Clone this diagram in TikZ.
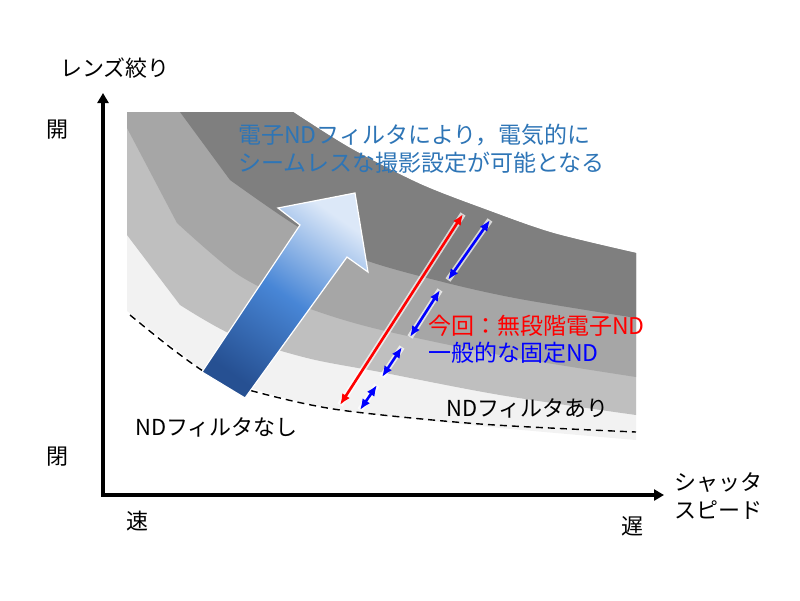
\documentclass[tikz,border=0pt]{standalone}
\usepackage{fontspec}
\usepackage{xcolor}
\usetikzlibrary{arrows.meta}
\newfontfamily\jpfont{Noto Sans CJK JP}
\definecolor{band0}{RGB}{127,127,127}
\definecolor{band1}{RGB}{166,166,166}
\definecolor{band2}{RGB}{191,191,191}
\definecolor{band3}{RGB}{242,242,242}
\definecolor{notecol}{RGB}{46,117,182}
\definecolor{arrowdark}{RGB}{38,80,146}
\definecolor{arrowmid}{RGB}{72,134,214}
\definecolor{arrowlight}{RGB}{220,232,248}

\begin{document}
\begin{tikzpicture}[x=1pt,y=-1pt,
  every node/.style={font=\jpfont\fontsize{22}{28}\selectfont, inner sep=0pt},
  big/.style={font=\jpfont\fontsize{23}{28}\selectfont},
  axis/.style={line width=3.6pt, {Triangle[length=10pt,width=11pt]}-{Triangle[length=10pt,width=11pt]}},
  dbl/.style={line width=2.6pt, {Latex[length=11pt,width=9pt]}-{Latex[length=11pt,width=9pt]},
    preaction={draw=white, line width=6pt, opacity=0.7, -}},
  ndline/.style={dashed, dash pattern=on 7pt off 5pt, line width=1.4pt},
  bigarrow/.style={left color=arrowlight, right color=arrowdark, middle color=arrowmid,
    shading angle=-35, draw=white, line width=1.2pt}]

\useasboundingbox (0,0) rectangle (800,600);

% ---- axes ----
\coordinate (origin) at (103,495);
\coordinate (ytop) at (103,93);
\coordinate (xend) at (664,495);

% double arrow macro (colour, from, to)
\newcommand{\ndarrow}[3]{\draw[dbl,#1] (#2) -- (#3);}

% ---- grey bands (clipped to outer outline) ----
\begin{scope}
  \clip (127,112) -- plot[smooth] coordinates {(293,112) (350,148) (420,184) (487,210) (553,233) (636,253)}
    -- (636,440) -- plot[smooth] coordinates {(636,440) (480,426) (340,410) (260,391) (200,368)}
    -- (127,311) -- cycle;
  \fill[band3] (100,100) rectangle (650,450);
  \fill[band2] (100,100) -- (650,100) -- (650,415)
    -- plot[smooth] coordinates {(636,415) (500,395) (380,372) (307,358) (233,335) (180,305)}
    -- (127,235) -- (100,235) -- cycle;
  \fill[band1] (100,100) -- (650,100) -- (650,377)
    -- plot[smooth] coordinates {(636,377) (500,355) (373,328) (300,305) (237,274) (177,223)}
    -- (127,128) -- (100,128) -- cycle;
  \fill[band0] (650,100) -- (650,318)
    -- plot[smooth] coordinates {(636,318) (520,299) (447,283) (365,260) (300,228) (230,180)}
    -- (180,112) -- (171,100) -- cycle;
\end{scope}

% no-ND boundary
\draw[ndline] plot[smooth] coordinates {(130,315) (175,351) (215,378) (260,393) (340,410) (480,424) (636,432)};

\draw[axis] (ytop) -- (origin) -- (xend);

% ---- big gradient arrow ----
\shadedraw[bigarrow] (202,372) -- (300,225) -- (278,208) -- (355,193)
  -- (368,272) -- (347,257) -- (245,398) -- cycle;

% ---- ND ranges ----
\coordinate (r0) at (340,405);  \coordinate (r1) at (463,214);
\coordinate (b0) at (360,410);  \coordinate (b1) at (377,385);
\coordinate (b2) at (382,377);  \coordinate (b3) at (402,347);
\coordinate (b4) at (410,337);  \coordinate (b5) at (440,290);
\coordinate (b6) at (448,280);  \coordinate (b7) at (490,220);
\ndarrow{red}{r0}{r1}
\ndarrow{blue}{b0}{b1}
\ndarrow{blue}{b2}{b3}
\ndarrow{blue}{b4}{b5}
\ndarrow{blue}{b6}{b7}

% ---- labels ----
\node[big, anchor=west, text=notecol, align=left] (note) at (238,149)
  {電子NDフィルタにより，電気的に\\シームレスな撮影設定が可能となる};
\node[big, anchor=west, text=red] (nowlbl) at (428,326) {今回：無段階電子ND};
\node[big, anchor=west, text=blue] (fixlbl) at (428,353) {一般的な固定ND};
\node[anchor=west] (withnd) at (446,408) {NDフィルタあり};
\node[anchor=west] (nond) at (135,427) {NDフィルタなし};

\node (irislbl) at (115,68) {レンズ絞り};
\node (openlbl) at (57,130) {開};
\node (closelbl) at (57,457) {閉};
\node (fastlbl) at (137,521) {速};
\node (slowlbl) at (632,526) {遅};
\node[anchor=west, align=left] (shutterlbl) at (674,496) {シャッタ\\スピード};

\end{tikzpicture}
\end{document}
